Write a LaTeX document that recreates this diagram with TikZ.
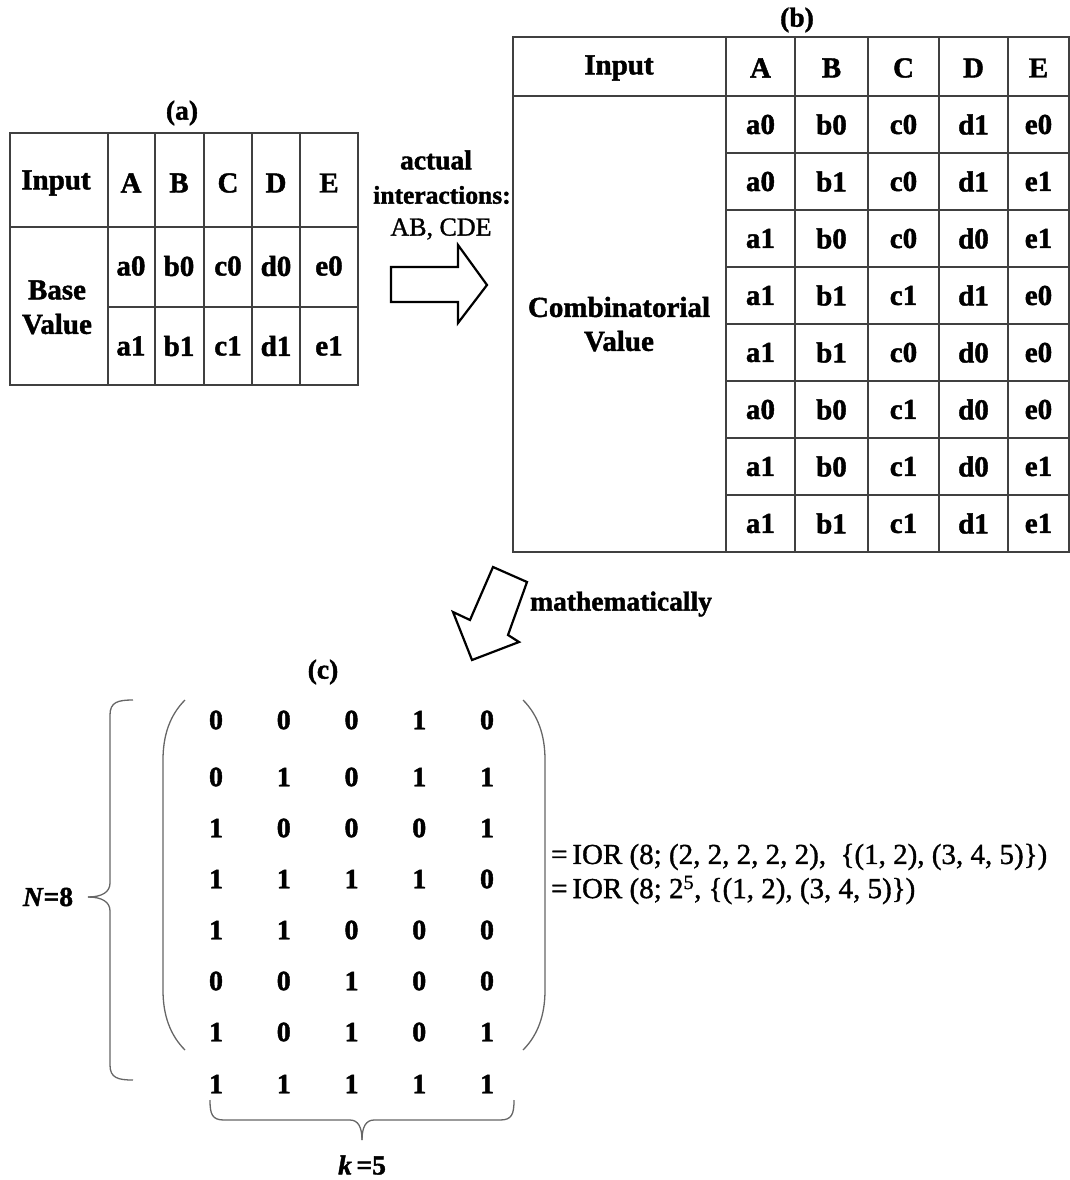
\documentclass[tikz,border=0pt]{standalone}
\usepackage{fontspec}
\setmainfont{Liberation Serif}[BoldFeatures={FakeBold=1.5}, BoldItalicFeatures={FakeBold=1.5}]
\newfontfamily\eqfont{Liberation Serif}[FakeBold=1.2]
\begin{document}
\begin{tikzpicture}[x=1pt,y=-1pt,
  grid/.style={draw=black!75, line width=1.3pt},
  cell/.style={font=\fontsize{29}{33}\selectfont\bfseries, inner sep=0pt, anchor=center},
  digit/.style={font=\fontsize{28}{32}\selectfont\bfseries, inner sep=0pt, anchor=center},
  lbl/.style={font=\fontsize{27.5}{31}\selectfont\bfseries, inner sep=0pt},
  smalllbl/.style={font=\fontsize{25.5}{29}\selectfont\bfseries, inner sep=0pt},
  txt/.style={font=\fontsize{26}{30}\selectfont\eqfont, inner sep=0pt},
  eqtxt/.style={font=\fontsize{29}{33}\selectfont\eqfont, inner sep=0pt},
  blockarrow/.style={draw=black, line width=2.2pt, fill=white, line join=miter},
  brace/.style={draw=black!60, line width=1.3pt},
]
\useasboundingbox (0,0) rectangle (1070,1180);

% ---------- table (a)
\node[lbl] (la) at (182,113) {(a)};
\draw[grid] (10,133) rectangle (358,385);
\draw[grid] (10,227) -- (358,227);
\draw[grid] (108,307) -- (358,307);
\foreach \x in {108,155,204,252,300} \draw[grid] (\x,133) -- (\x,385);
\node[cell] (ainput) at (56,183) {Input};
\node[cell] (abase) at (57,290) {Base};
\node[cell] (avalue) at (57,324) {Value};
\foreach \x/\t [count=\i] in {131/A,179/B,228/C,276/D,329/E} {
  \node[cell] (ah\i) at (\x,183) {\t};
}
\foreach \x/\t [count=\i] in {131/a0,179/b0,228/c0,276/d0,329/e0} {
  \node[cell] (ar1\i) at (\x,266) {\t};
}
\foreach \x/\t [count=\i] in {131/a1,179/b1,228/c1,276/d1,329/e1} {
  \node[cell] (ar2\i) at (\x,346) {\t};
}

% ---------- arrow (a)->(b)
\node[lbl] (t1) at (436,160) {actual};
\node[smalllbl] (t2) at (442,195) {interactions:};
\node[txt] (t3) at (441,229) {AB, CDE};
\draw[blockarrow] (391,267) -- (458,267) -- (458,245) -- (487,285) -- (458,323) -- (458,302) -- (391,302) -- cycle;

% ---------- table (b)
\node[lbl] (lb) at (797,20) {(b)};
\draw[grid] (513,37) rectangle (1069,552);
\draw[grid] (513,96) -- (1069,96);
\foreach \y in {153,210,267,324,381,438,495} \draw[grid] (726,\y) -- (1069,\y);
\foreach \x in {726,795,868,939,1008} \draw[grid] (\x,37) -- (\x,552);
\node[cell] (binput) at (619,68) {Input};
\node[cell] (bcomb) at (619,307) {Combinatorial};
\node[cell] (bvalue) at (619,341) {Value};
\foreach \x/\t [count=\i] in {760.5/A,831.5/B,903.5/C,973.5/D,1038.5/E} {
  \node[cell] (bh\i) at (\x,68) {\t};
}
\foreach \row [count=\r] in {{a0,b0,c0,d1,e0},{a0,b1,c0,d1,e1},{a1,b0,c0,d0,e1},{a1,b1,c1,d1,e0},{a1,b1,c0,d0,e0},{a0,b0,c1,d0,e0},{a1,b0,c1,d0,e1},{a1,b1,c1,d1,e1}} {
  \foreach \v [count=\c] in \row {
    \pgfmathsetmacro{\xx}{{760.5,831.5,903.5,973.5,1038.5}[\c-1]}
    \pgfmathsetmacro{\yy}{124.5+57*(\r-1)}
    \node[cell] (b\r-\c) at (\xx,\yy) {\v};
  }
}

% ---------- arrow (b)->(c)
\draw[blockarrow] (493,567) -- (527,582) -- (508,635) -- (519,642) -- (472,660) -- (453,612) -- (470,620) -- cycle;
\node[lbl, anchor=west] (t4) at (530,604) {mathematically};

% ---------- matrix (c)
\node[lbl] (lc) at (323,672) {(c)};
\foreach \row [count=\r] in {{0,0,0,1,0},{0,1,0,1,1},{1,0,0,0,1},{1,1,1,1,0},{1,1,0,0,0},{0,0,1,0,0},{1,0,1,0,1},{1,1,1,1,1}} {
  \foreach \v [count=\c] in \row {
    \pgfmathsetmacro{\xx}{216+67.75*(\c-1)}
    \pgfmathsetmacro{\yy}{{720,777,828,879,930,981,1032,1084}[\r-1]}
    \node[digit] (m\r-\c) at (\xx,\yy) {\v};
  }
}
% parentheses
\draw[brace] (185,700) .. controls (170,715) and (163,735) .. (163,760) -- (163,990) .. controls (163,1015) and (170,1035) .. (185,1050);
\draw[brace] (523,700) .. controls (538,715) and (545,735) .. (545,760) -- (545,990) .. controls (545,1015) and (538,1035) .. (523,1050);
% left brace
\coordinate (ntip) at (88,897);
\draw[brace] (133,700) .. controls (118,700) and (110,702) .. (110,715) -- (110,883) .. controls (110,892) and (102,897) .. (ntip);
\draw[brace] (133,1080) .. controls (118,1080) and (110,1078) .. (110,1065) -- (110,911) .. controls (110,902) and (102,897) .. (ntip);
\node[lbl] (nlab) at (48,897) {\textit{N}=8};
% bottom brace
\coordinate (ktip) at (362,1140);
\draw[brace] (210,1100) .. controls (210,1114) and (212,1120) .. (224,1120) -- (350,1120) .. controls (358,1120) and (362,1127) .. (ktip);
\draw[brace] (514,1100) .. controls (514,1114) and (512,1120) .. (500,1120) -- (374,1120) .. controls (366,1120) and (362,1127) .. (ktip);
\node[lbl] (klab) at (362,1165) {\textit{k}\,=5};

% equations
\node[eqtxt, anchor=west] (eq1) at (551,857) {=\,IOR (8; (2, 2, 2, 2, 2),\ \ \{(1, 2), (3, 4, 5)\})};
\node[eqtxt, anchor=west] (eq2) at (551,890) {=\,IOR (8; 2\textsuperscript{5}, \{(1, 2), (3, 4, 5)\})};
\end{tikzpicture}
\end{document}
